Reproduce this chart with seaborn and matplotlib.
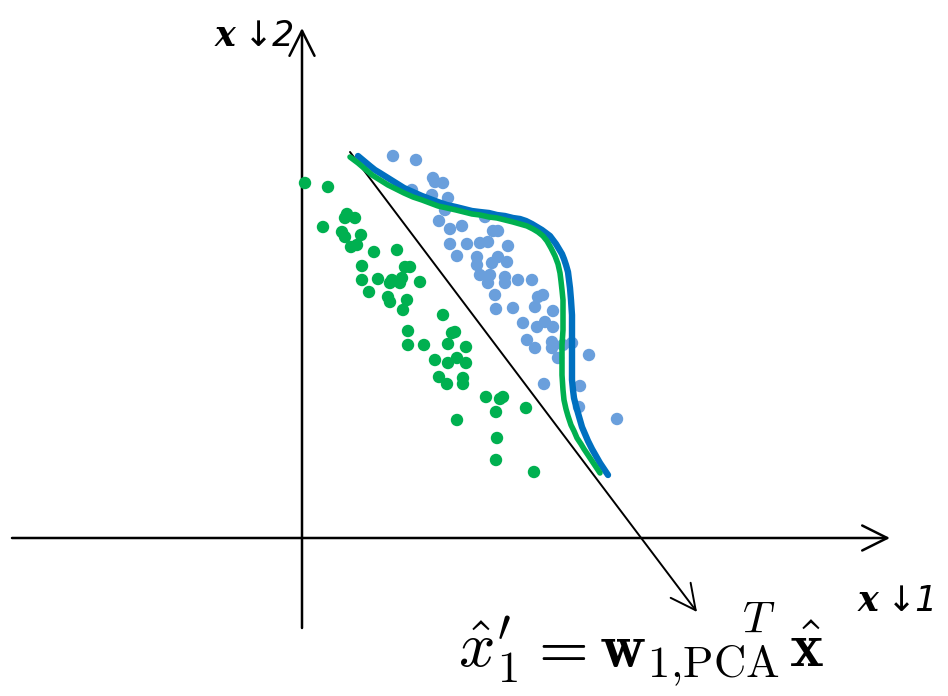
import numpy as np
import pandas as pd
import matplotlib
matplotlib.use("Agg")
import matplotlib.pyplot as plt
import seaborn as sns

sns.set_theme(style="white")
plt.rcParams['font.family'] = ['DejaVu Sans']
plt.rcParams['mathtext.fontset'] = 'cm'

# ---- data (x1 to the right, x2 upward; origin at the axes crossing) ----
OX, OY = 302, 538
green_px = [305, 328, 347, 355, 345, 323, 342, 345, 361, 357, 351, 374, 397, 362, 405, 410,
            362, 378, 392, 402, 390, 400, 420, 369, 388, 390, 407, 403, 443, 408, 452, 455,
            408, 424, 448, 466, 435, 448, 457, 466, 439, 447, 463, 463, 486, 500, 503, 496,
            526, 457, 497, 496, 534]
green_py = [183, 187, 214, 218, 218, 227, 232, 237, 235, 245, 247, 252, 250, 266, 267, 267,
            280, 279, 280, 278, 283, 283, 282, 292, 297, 302, 300, 310, 315, 331, 333, 332,
            345, 345, 344, 347, 360, 363, 358, 363, 377, 384, 378, 384, 397, 399, 397, 412,
            408, 420, 438, 460, 472]
blue_px = [393, 416, 433, 435, 443, 412, 432, 448, 445, 485, 439, 462, 450, 493, 498, 450,
           467, 480, 488, 508, 457, 477, 477, 492, 498, 507, 480, 490, 488, 505, 505, 518,
           532, 495, 538, 543, 535, 496, 513, 553, 523, 537, 545, 553, 527, 535, 552, 552,
           563, 572, 558, 589, 544, 580, 579, 617]
blue_py = [156, 160, 178, 182, 183, 190, 195, 198, 210, 217, 221, 226, 229, 231, 231, 244,
           244, 243, 242, 246, 256, 257, 265, 263, 257, 262, 275, 275, 283, 277, 283, 280,
           280, 295, 297, 295, 307, 309, 308, 311, 323, 327, 322, 327, 340, 348, 342, 348,
           345, 343, 358, 355, 384, 386, 407, 419]

green_curve_px = [350, 358, 365, 372, 380, 388, 396, 404, 413, 422, 430, 438, 447, 456, 464,
                  472, 480, 489, 497, 505, 513, 520, 527, 533, 538, 543, 547, 551, 555, 558,
                  560, 561, 562, 563, 563, 563, 562, 562, 562, 563, 564, 566, 568, 571, 574,
                  577, 581, 584, 588, 592, 596, 600]
green_curve_py = [157, 163, 169, 175, 180, 185, 189, 193, 197, 200, 203, 206, 208, 210, 212,
                  214, 215, 217, 218, 220, 222, 224, 226, 229, 232, 236, 241, 248, 256, 264,
                  273, 281, 290, 300, 315, 330, 345, 360, 375, 390, 400, 409, 416, 425, 431,
                  438, 444, 449, 455, 461, 467, 473]
blue_curve_px = [358, 364, 370, 375, 380, 388, 396, 404, 413, 422, 430, 438, 447, 456, 464,
                 472, 480, 489, 497, 505, 513, 520, 526, 532, 537, 542, 546, 550, 553, 556,
                 559, 562, 564, 566, 568, 569, 570, 571, 572, 572, 572, 572, 572, 573, 574,
                 576, 578, 580, 582, 585, 588, 592, 596, 600, 604, 608]
blue_curve_py = [156, 161, 166, 170, 173, 178, 183, 188, 192, 196, 199, 202, 205, 207, 209,
                 211, 212, 213, 215, 216, 218, 219, 221, 224, 227, 230, 233, 236, 240, 244,
                 249, 254, 259, 265, 272, 280, 288, 300, 315, 330, 345, 360, 380, 390, 398,
                 406, 413, 420, 427, 434, 441, 449, 456, 463, 469, 475]

green = pd.DataFrame({"x1": np.array(green_px) - OX, "x2": OY - np.array(green_py)})
blue = pd.DataFrame({"x1": np.array(blue_px) - OX, "x2": OY - np.array(blue_py)})
gcur = pd.DataFrame({"x1": np.array(green_curve_px) - OX, "x2": OY - np.array(green_curve_py)})
bcur = pd.DataFrame({"x1": np.array(blue_curve_px) - OX, "x2": OY - np.array(blue_curve_py)})

GREEN = "#00B050"
LBLUE = "#6A9FDC"
DBLUE = "#0070C0"

fig = plt.figure(figsize=(9.48, 6.96), dpi=100)
ax = fig.add_axes([0, 0, 1, 1])
ax.set_xlim(-OX, 948 - OX)
ax.set_ylim(OY - 696, OY)
ax.axis("off")

sns.scatterplot(data=green, x="x1", y="x2", color=GREEN, s=80, edgecolor="none", ax=ax, zorder=3)
sns.scatterplot(data=blue, x="x1", y="x2", color=LBLUE, s=80, edgecolor="none", ax=ax, zorder=3)
sns.lineplot(data=bcur, x="x1", y="x2", sort=False, estimator=None, color=DBLUE, lw=4.6, ax=ax, zorder=4)
sns.lineplot(data=gcur, x="x1", y="x2", sort=False, estimator=None, color=GREEN, lw=4.0, ax=ax, zorder=5)

arrow = dict(arrowstyle="->,head_length=0.9,head_width=0.45", color="black", lw=1.8,
             shrinkA=0, shrinkB=0, mutation_scale=20)
# horizontal axis
ax.annotate("", xy=(890 - OX, 0), xytext=(12 - OX, 0), arrowprops=arrow, zorder=2)
# vertical axis
ax.annotate("", xy=(0, OY - 28), xytext=(0, OY - 628), arrowprops=arrow, zorder=2)
# diagonal PCA direction
arrow2 = dict(arrow, lw=1.4)
ax.annotate("", xy=(697 - OX, OY - 612), xytext=(350 - OX, OY - 152), arrowprops=arrow2, zorder=2)

lab = dict(color="black", ha="left", va="center")
ax.text(215 - OX, OY - 36, "x", fontsize=25, fontstyle="italic", fontweight="bold",
        family="DejaVu Serif", **lab)
ax.text(244 - OX, OY - 36, "↓2", fontsize=25, fontstyle="italic", family="DejaVu Sans", **lab)
ax.text(858 - OX, OY - 601, "x", fontsize=25, fontstyle="italic", fontweight="bold",
        family="DejaVu Serif", **lab)
ax.text(887 - OX, OY - 601, "↓1", fontsize=25, fontstyle="italic", family="DejaVu Sans", **lab)

fm = dict(color="black", ha="left", va="baseline")
BASE = OY - 667
ax.text(458 - OX, BASE, r"$\hat{x}_1'$", fontsize=46, **fm)
ax.text(527 - OX, BASE, r"$=$", fontsize=46, **fm)
ax.text(599 - OX, BASE, r"$\mathbf{w}_{1{,}\mathrm{PCA}}$", fontsize=46, **fm)
ax.text(789 - OX, BASE, r"$\hat{\mathbf{x}}$", fontsize=46, **fm)
ax.text(742 - OX, OY - 633, r"$T$", fontsize=32, **fm)

fig.savefig("out.png", dpi=100)
